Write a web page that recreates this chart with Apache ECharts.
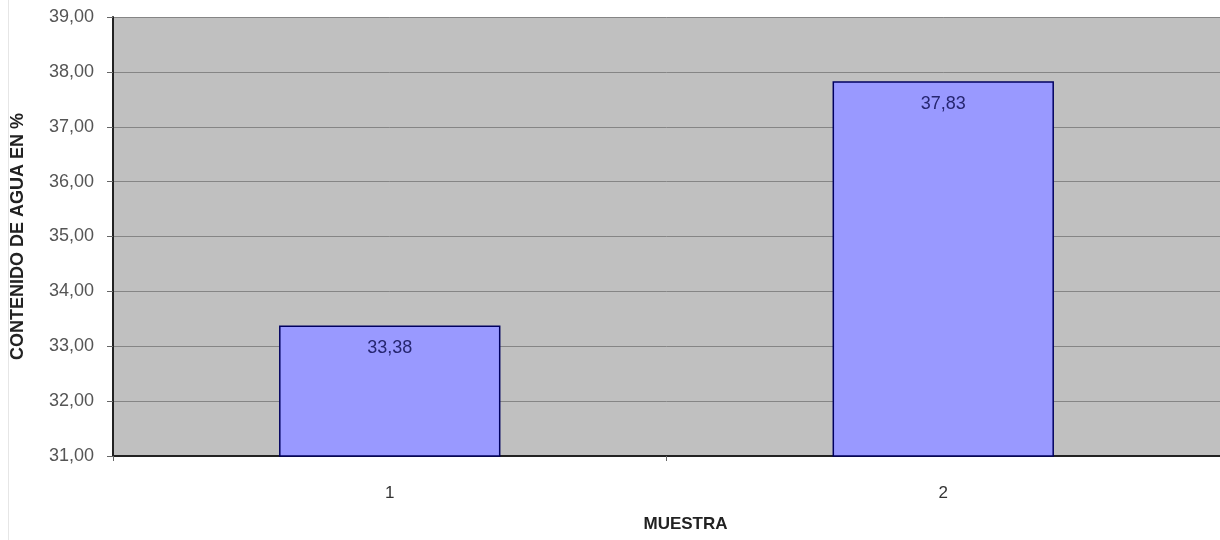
<!DOCTYPE html>
<html>
<head>
<meta charset="utf-8">
<script src="https://cdn.jsdelivr.net/npm/echarts@6/dist/echarts.min.js"></script>
<style>
  html, body { margin: 0; padding: 0; background: #ffffff; }
  #chart { width: 1220px; height: 540px; }
</style>
</head>
<body>
<div id="chart"></div>
<script>
// Water content per sample
const categories = ['1', '2'];
const waterContent = [33.38, 37.83];
const yMin = 31;
const yMax = 39;
const yStep = 1;

const fmt = v => v.toFixed(2).replace('.', ',');

const chart = echarts.init(document.getElementById('chart'));
chart.setOption({
  animation: false,
  textStyle: { fontFamily: 'Liberation Sans, Arial, sans-serif' },
  graphic: [{
    type: 'line',
    shape: { x1: 8.5, y1: 0, x2: 8.5, y2: 540 },
    style: { stroke: '#e6e6e6', lineWidth: 1 }
  }],
  grid: {
    left: 113, right: 0, top: 17, bottom: 84,
    show: true, backgroundColor: '#c0c0c0', borderWidth: 0
  },
  xAxis: {
    type: 'category',
    data: categories,
    name: 'MUESTRA',
    nameLocation: 'middle',
    nameGap: 60,
    nameTextStyle: { fontWeight: 'bold', fontSize: 17, color: '#222', padding: [0, 0, 0, 38] },
    axisLine: { lineStyle: { color: '#222', width: 2 } },
    axisTick: { show: true, alignWithLabel: false, length: 5, lineStyle: { color: '#666' } },
    axisLabel: { fontSize: 17, color: '#333', margin: 29 }
  },
  yAxis: {
    type: 'value',
    min: yMin, max: yMax, interval: yStep,
    name: 'CONTENIDO DE AGUA EN %',
    nameLocation: 'middle',
    nameGap: 86,
    nameTextStyle: { fontWeight: 'bold', fontSize: 18, color: '#222' },
    axisLine: { show: true, lineStyle: { color: '#222', width: 2 } },
    axisTick: { show: true, length: 6, lineStyle: { color: '#666' } },
    axisLabel: { fontSize: 18, color: '#555', margin: 19, formatter: v => fmt(v) },
    splitLine: { show: true, lineStyle: { color: '#858585', width: 1 } }
  },
  series: [{
    type: 'bar',
    data: waterContent,
    barWidth: '40%',
    itemStyle: { color: '#9999ff', borderColor: '#000060', borderWidth: 1.5 },
    label: {
      show: true, position: 'insideTop', distance: 14,
      fontSize: 18, color: '#262670',
      formatter: p => fmt(p.value)
    }
  }]
});
</script>
</body>
</html>
